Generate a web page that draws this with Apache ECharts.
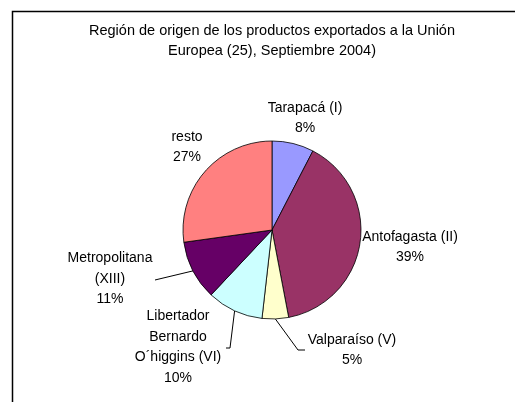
<!DOCTYPE html>
<html>
<head>
<meta charset="utf-8">
<script src="https://cdn.jsdelivr.net/npm/echarts@6/dist/echarts.min.js"></script>
<style>
  html, body { margin: 0; padding: 0; background: #fff; }
  #chart { width: 515px; height: 402px; }
</style>
</head>
<body>
<div id="chart"></div>
<script>
// datos
var regiones = ['Tarapacá (I)', 'Antofagasta (II)', 'Valparaíso (V)', 'Libertador\nBernardo\nO´higgins (VI)', 'Metropolitana\n(XIII)', 'resto'];
var valores = [7.6, 39.4, 4.8, 10.2, 10.8, 27.2];
var colores = ['#9999FF', '#993366', '#FFFFCC', '#CCFFFF', '#660066', '#FF8080'];

// donde va cada etiqueta (centro del texto) y el final de su linea guia
var posEtiquetas = [[305, 118], [410, 247], [352, 350], [178, 347], [110, 279], [187, 147]];
var lineasGuia = [null, null, [[298, 350], [305, 350]], [[230, 348], [226, 348]], [[157, 279.5], [155, 280]], null];

var chart = echarts.init(document.getElementById('chart'));
var fuente = '"Liberation Sans", Arial, sans-serif';

var datos = [];
for (var i = 0; i < regiones.length; i++) {
    datos.push({
        name: regiones[i],
        value: valores[i],
        itemStyle: { color: colores[i] },
        labelLine: { show: lineasGuia[i] != null }
    });
}

var option = {
    backgroundColor: '#fff',
    animation: false,
    title: {
        text: 'Región de origen de los productos exportados a la Unión\nEuropea (25), Septiembre 2004)',
        left: 272,
        top: 21,
        padding: 0,
        textAlign: 'center',
        textStyle: { fontFamily: fuente, fontSize: 14.5, fontWeight: 'normal', color: '#000', lineHeight: 20 }
    },
    graphic: [{
        type: 'rect',
        shape: { x: 12.5, y: 11.5, width: 540, height: 420 },
        style: { fill: 'none', stroke: '#000', lineWidth: 1.5 },
        silent: true
    }],
    series: [{
        type: 'pie',
        center: [272, 230],
        radius: 89,
        startAngle: 90,
        clockwise: true,
        avoidLabelOverlap: false,
        itemStyle: { borderColor: '#000', borderWidth: 0.8 },
        label: {
            position: 'outside',
            fontFamily: fuente,
            fontSize: 14,
            color: '#000',
            lineHeight: 20.5,
            align: 'center',
            formatter: function (p) {
                return p.name + '\n' + Math.round(p.percent) + '%';
            }
        },
        labelLine: {
            lineStyle: { color: '#000', width: 1 }
        },
        labelLayout: function (params) {
            var i = params.dataIndex;
            var res = {
                x: posEtiquetas[i][0],
                y: posEtiquetas[i][1],
                align: 'center',
                verticalAlign: 'middle'
            };
            if (lineasGuia[i] && params.labelLinePoints) {
                res.labelLinePoints = [params.labelLinePoints[0], lineasGuia[i][0], lineasGuia[i][1]];
            }
            return res;
        },
        emphasis: { disabled: true },
        data: datos
    }]
};

chart.setOption(option);
</script>
</body>
</html>
